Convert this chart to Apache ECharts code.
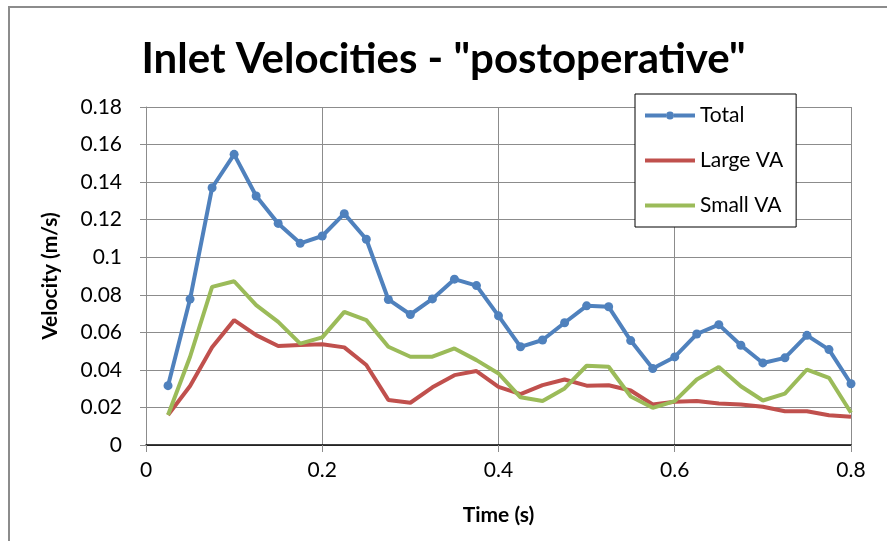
<!DOCTYPE html>
<html>
<head>
<meta charset="utf-8">
<script src="https://cdn.jsdelivr.net/npm/echarts@6/dist/echarts.min.js"></script>
<style>html,body{margin:0;padding:0;background:#fff;}#c{width:887px;height:541px;}</style>
</head>
<body>
<div id="c"></div>
<script>
const times = [0.025,0.05,0.075,0.1,0.125,0.15,0.175,0.2,0.225,0.25,0.275,0.3,0.325,0.35,0.375,0.4,0.425,0.45,0.475,0.5,0.525,0.55,0.575,0.6,0.625,0.65,0.675,0.7,0.725,0.75,0.775,0.8];
const total = [0.0316,0.0777,0.137,0.1548,0.1326,0.118,0.1074,0.1113,0.1232,0.1096,0.0775,0.0695,0.0778,0.0883,0.0849,0.0688,0.0523,0.0559,0.0651,0.0741,0.0736,0.0556,0.0407,0.0469,0.0591,0.0641,0.0531,0.0437,0.0464,0.0584,0.0508,0.0326];
const largeVA = [0.016,0.0314,0.052,0.0665,0.0585,0.0527,0.0532,0.0537,0.052,0.0426,0.024,0.0225,0.0307,0.0372,0.0394,0.031,0.0271,0.0319,0.0349,0.0316,0.0318,0.0290,0.0216,0.023,0.0234,0.0221,0.0216,0.0204,0.018,0.018,0.0158,0.015];
const smallVA = [0.016,0.047,0.0842,0.0872,0.0745,0.0656,0.054,0.0573,0.0709,0.0665,0.0523,0.047,0.047,0.0514,0.0452,0.0381,0.0254,0.0234,0.0301,0.0422,0.0417,0.0258,0.0198,0.0234,0.0349,0.0416,0.0313,0.0237,0.0274,0.0402,0.0358,0.0172];
const seriesNames = ['Total','Large VA','Small VA'];
const xTicks = {min:0, max:0.8, interval:0.2};
const yTicks = {min:0, max:0.18, interval:0.02};

const font = 'Lato, "Open Sans", sans-serif';
const iconDotLine = 'path://M0,2 L21,2 L21,6 L0,6 Z M29,2 L50,2 L50,6 L29,6 Z M25,0 A4,4 0 1 1 25,8 A4,4 0 1 1 25,0 Z';
const iconLine = 'path://M0,0 L50,0 L50,4 L0,4 Z';
const chart = echarts.init(document.getElementById('c'), null, {renderer:'canvas'});
const pair = arr => times.map((t,i)=>[t,arr[i]]);
chart.setOption({
  backgroundColor:'#fff',
  animation:false,
  title:{text:'Inlet Velocities - "postoperative"', left:'center', top:33,
    textStyle:{fontFamily:font, fontWeight:'bold', fontSize:42, color:'#000'}},
  graphic:[
    {type:'polyline', shape:{points:[[9,545],[9,7],[890,7]]}, style:{stroke:'#8c8c8c', lineWidth:2, fill:null}}
  ],
  grid:{left:146, right:36, top:107, bottom:96, show:false},
  legend:{
    orient:'vertical', left:635, top:94,
    backgroundColor:'#fff', borderColor:'#000', borderWidth:1,
    padding:[11,13,11,10], itemGap:24, itemWidth:50, itemHeight:8,
    textStyle:{fontFamily:font, fontSize:21, color:'#000'},
    data:[
      {name:seriesNames[0], icon:iconDotLine, itemStyle:{color:'#4F81BD'}},
      {name:seriesNames[1], icon:iconLine, itemStyle:{color:'#C0504D'}},
      {name:seriesNames[2], icon:iconLine, itemStyle:{color:'#9BBB59'}}
    ]
  },
  xAxis:[{
    type:'value', min:xTicks.min, max:xTicks.max, interval:xTicks.interval,
    name:'Time (s)', nameLocation:'middle', nameGap:60,
    nameTextStyle:{fontFamily:font, fontWeight:'bold', fontSize:21, color:'#000'},
    axisLine:{show:true, onZero:false, lineStyle:{color:'#8c8c8c', width:1}},
    axisTick:{show:true, length:7, lineStyle:{color:'#8c8c8c'}},
    axisLabel:{fontFamily:font, fontSize:21, color:'#000', margin:15},
    splitLine:{show:true, lineStyle:{color:'#8c8c8c', width:1}}
  },{
    type:'value', position:'top', min:xTicks.min, max:xTicks.max,
    axisLine:{show:true, lineStyle:{color:'#000', width:1.5}},
    axisTick:{show:false}, axisLabel:{show:false}, splitLine:{show:false}
  }],
  yAxis:{
    type:'value', min:yTicks.min, max:yTicks.max, interval:yTicks.interval,
    name:'Velocity (m/s)', nameLocation:'middle', nameGap:85,
    nameTextStyle:{fontFamily:font, fontWeight:'bold', fontSize:21, color:'#000'},
    axisLine:{show:true, lineStyle:{color:'#8c8c8c', width:1}},
    axisTick:{show:true, length:6, lineStyle:{color:'#8c8c8c'}},
    axisLabel:{fontFamily:font, fontSize:21, color:'#000', margin:24},
    splitLine:{show:true, lineStyle:{color:'#8c8c8c', width:1}}
  },
  series:[
    {name:seriesNames[0], type:'line', data:pair(total), symbol:'circle', symbolSize:9,
     color:'#4F81BD', lineStyle:{width:4, color:'#4F81BD'}, itemStyle:{color:'#4F81BD'}, z:4},
    {name:seriesNames[1], type:'line', data:pair(largeVA), symbol:'none',
     color:'#C0504D', lineStyle:{width:4, color:'#C0504D'}, z:2},
    {name:seriesNames[2], type:'line', data:pair(smallVA), symbol:'none',
     color:'#9BBB59', lineStyle:{width:4, color:'#9BBB59'}, z:3}
  ]
});
</script>
</body>
</html>
